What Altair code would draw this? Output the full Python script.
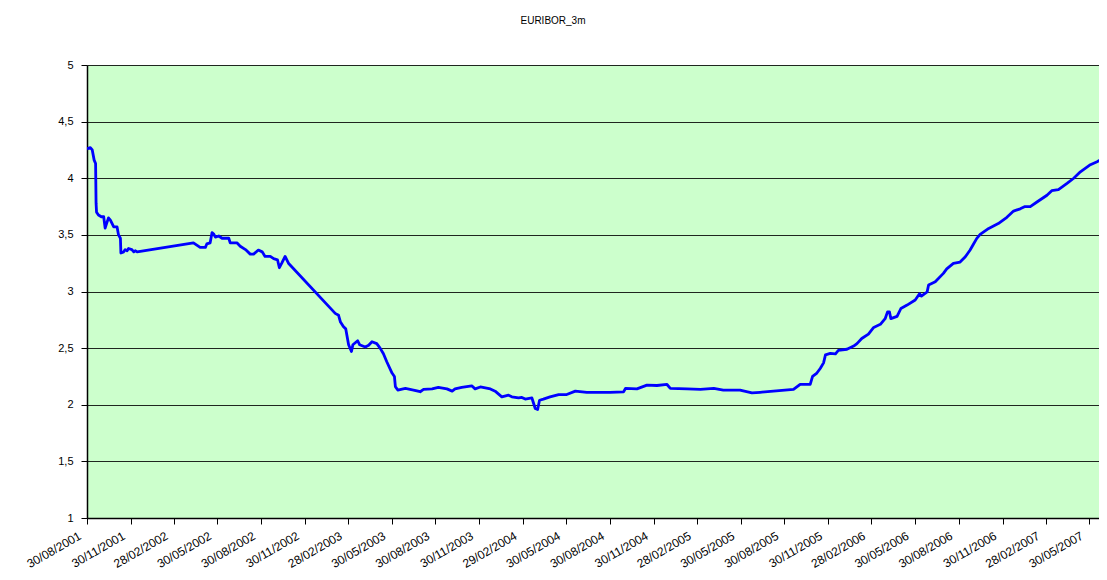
import altair as alt
import pandas as pd

title_text = "EURIBOR_3m"

dates = [
    "2001-08-30", "2001-09-06", "2001-09-10", "2001-09-14", "2001-09-17", "2001-09-18",
    "2001-09-19", "2001-09-23", "2001-09-29", "2001-10-04", "2001-10-07", "2001-10-10",
    "2001-10-14", "2001-10-18", "2001-10-25", "2001-11-01", "2001-11-04", "2001-11-08",
    "2001-11-09", "2001-11-15", "2001-11-18", "2001-11-22", "2001-11-25", "2001-12-02",
    "2001-12-06", "2001-12-09", "2001-12-13",
    "2002-04-10", "2002-04-17", "2002-04-24", "2002-05-05", "2002-05-08", "2002-05-15",
    "2002-05-19", "2002-05-22", "2002-05-26", "2002-06-02", "2002-06-09", "2002-06-23",
    "2002-06-26", "2002-07-10", "2002-07-17", "2002-07-28", "2002-08-07", "2002-08-14",
    "2002-08-24", "2002-09-01", "2002-09-07", "2002-09-18", "2002-09-25", "2002-10-03",
    "2002-10-07", "2002-10-12", "2002-10-19", "2002-10-26",
    "2003-02-01", "2003-02-08", "2003-02-12", "2003-02-18", "2003-02-23", "2003-03-01",
    "2003-03-07", "2003-03-10", "2003-03-20", "2003-03-24", "2003-04-05", "2003-04-12",
    "2003-04-19", "2003-04-29", "2003-05-06", "2003-05-13", "2003-05-20", "2003-05-31",
    "2003-06-05", "2003-06-07", "2003-06-12", "2003-06-28", "2003-07-15", "2003-07-29",
    "2003-08-05", "2003-08-23", "2003-09-05", "2003-09-23", "2003-10-04", "2003-10-10",
    "2003-10-24", "2003-11-14", "2003-11-21", "2003-12-02", "2003-12-23",
    "2004-01-02", "2004-01-16", "2004-01-30", "2004-02-06", "2004-02-20", "2004-02-27",
    "2004-03-05", "2004-03-19", "2004-03-26", "2004-03-31", "2004-04-04", "2004-04-12",
    "2004-04-26", "2004-05-14", "2004-05-31", "2004-06-18", "2004-07-12", "2004-08-09",
    "2004-08-30", "2004-09-27", "2004-10-01", "2004-10-25", "2004-11-15", "2004-12-06",
    "2004-12-27",
    "2005-01-03", "2005-02-07", "2005-03-07", "2005-04-04", "2005-04-24", "2005-05-29",
    "2005-06-23", "2005-07-10", "2005-08-07", "2005-09-18", "2005-10-02", "2005-10-23",
    "2005-10-28", "2005-11-06", "2005-11-13", "2005-11-20", "2005-11-24", "2005-12-04",
    "2005-12-15", "2005-12-21",
    "2006-01-08", "2006-01-22", "2006-01-29", "2006-02-08", "2006-02-22", "2006-03-05",
    "2006-03-19", "2006-03-29", "2006-04-03", "2006-04-07", "2006-04-10", "2006-04-23",
    "2006-05-01", "2006-05-14", "2006-05-31", "2006-06-09", "2006-06-13", "2006-06-25",
    "2006-06-28", "2006-07-12", "2006-07-29", "2006-08-05", "2006-08-19", "2006-09-02",
    "2006-09-13", "2006-09-23", "2006-09-29", "2006-10-07", "2006-10-14", "2006-11-01",
    "2006-11-21", "2006-12-09", "2006-12-23",
    "2007-01-06", "2007-01-16", "2007-01-27", "2007-02-10", "2007-03-03", "2007-03-13",
    "2007-03-27", "2007-04-14", "2007-04-28", "2007-05-12", "2007-06-02", "2007-06-16",
    "2007-07-07",
]

rates = [
    4.26, 4.27, 4.25, 4.16, 4.13, 3.78,
    3.70, 3.675, 3.66, 3.66, 3.56, 3.60,
    3.65, 3.63, 3.57, 3.57, 3.50, 3.47,
    3.34, 3.35, 3.37, 3.36, 3.38, 3.37,
    3.35, 3.36, 3.35,
    3.43, 3.41, 3.39, 3.39, 3.42, 3.43,
    3.52, 3.51, 3.48, 3.49, 3.47, 3.47,
    3.43, 3.43, 3.40, 3.37, 3.33, 3.33,
    3.366, 3.35, 3.31, 3.31, 3.29, 3.28,
    3.21, 3.25, 3.31, 3.25,
    2.807, 2.79, 2.73, 2.69, 2.67, 2.53,
    2.47, 2.53, 2.565, 2.53, 2.51, 2.525,
    2.556, 2.54, 2.50, 2.45, 2.38, 2.28,
    2.25, 2.16, 2.13, 2.144, 2.13, 2.115,
    2.135, 2.14, 2.153, 2.14, 2.12, 2.14,
    2.153, 2.167, 2.14, 2.157, 2.14,
    2.12, 2.07, 2.085, 2.07, 2.06, 2.065,
    2.05, 2.06, 1.967, 1.958, 2.04, 2.05,
    2.07, 2.09, 2.09, 2.12, 2.109, 2.11,
    2.11, 2.114, 2.144, 2.14, 2.173, 2.17,
    2.179,
    2.144, 2.14, 2.135, 2.144, 2.13, 2.13,
    2.105, 2.11, 2.12, 2.135, 2.18, 2.18,
    2.25, 2.28, 2.32, 2.37, 2.44, 2.453,
    2.45, 2.48,
    2.49, 2.518, 2.54, 2.585, 2.624, 2.683,
    2.71, 2.76, 2.82, 2.82, 2.76, 2.78,
    2.85, 2.88, 2.925, 2.98, 2.96, 2.997,
    3.057, 3.086, 3.16, 3.20, 3.248, 3.26,
    3.307, 3.366, 3.41, 3.469, 3.504, 3.557,
    3.60, 3.655, 3.71,
    3.73, 3.75, 3.75, 3.79, 3.85, 3.89,
    3.90, 3.955, 4.00, 4.057, 4.12, 4.146,
    4.196,
]

tick_dates = [
    "2001-08-30", "2001-11-30", "2002-02-28", "2002-05-30", "2002-08-30", "2002-11-30",
    "2003-02-28", "2003-05-30", "2003-08-30", "2003-11-30", "2004-02-29", "2004-05-30",
    "2004-08-30", "2004-11-30", "2005-02-28", "2005-05-30", "2005-08-30", "2005-11-30",
    "2006-02-28", "2006-05-30", "2006-08-30", "2006-11-30", "2007-02-28", "2007-05-30",
]

y_ticks = [1, 1.5, 2, 2.5, 3, 3.5, 4, 4.5, 5]
x_domain = ["2001-08-30", "2007-06-20"]

df = pd.DataFrame({"date": dates, "rate": rates})


def to_dt(s):
    y, m, d = (int(p) for p in s.split("-"))
    return alt.DateTime(year=y, month=m, date=d, utc=True)


font = "Liberation Sans"

chart = (
    alt.Chart(df)
    .mark_line(color="#0000FF", strokeWidth=2.8, clip=True, strokeJoin="round")
    .encode(
        x=alt.X(
            "date:T",
            scale=alt.Scale(type="utc", domain=[to_dt(s) for s in x_domain], nice=False),
            axis=alt.Axis(
                title=None,
                values=[to_dt(s) for s in tick_dates],
                labelExpr="utcFormat(datum.value, '%d/%m/%Y')",
                labelAngle=-30,
                labelAlign="right",
                labelBaseline="top",
                labelPadding=6,
                labelOffset=-10,
                labelFont=font,
                labelFontSize=12,
                labelColor="#000000",
                tickColor="#000000",
                tickSize=6,
                domainColor="#000000",
                domainWidth=1.5,
                grid=False,
                labelOverlap=False,
                labelFlush=False,
            ),
        ),
        y=alt.Y(
            "rate:Q",
            scale=alt.Scale(domain=[1, 5], nice=False, zero=False),
            axis=alt.Axis(
                title=None,
                values=y_ticks,
                labelExpr="replace(format(datum.value, '~g'), '.', ',')",
                labelFont=font,
                labelFontSize=11,
                labelColor="#000000",
                labelPadding=8,
                tickColor="#000000",
                tickSize=6,
                domainColor="#000000",
                domainWidth=1.5,
                grid=True,
                gridColor="#000000",
                gridOpacity=0.85,
                gridWidth=1,
            ),
        ),
    )
    .properties(
        width=1012,
        height=453,
        background="#FFFFFF",
        title=alt.TitleParams(
            text=title_text,
            font=font,
            fontSize=10,
            fontWeight="normal",
            color="#000000",
            anchor="middle",
            dx=-40,
            offset=33,
        ),
        autosize=alt.AutoSizeParams(type="none"),
        padding={"left": 79, "top": 57, "right": 0, "bottom": 54},
    )
    .configure_view(fill="#CCFFCC", strokeWidth=0)
)

chart.save("out.html", embed_options={"renderer": "svg", "actions": False})
